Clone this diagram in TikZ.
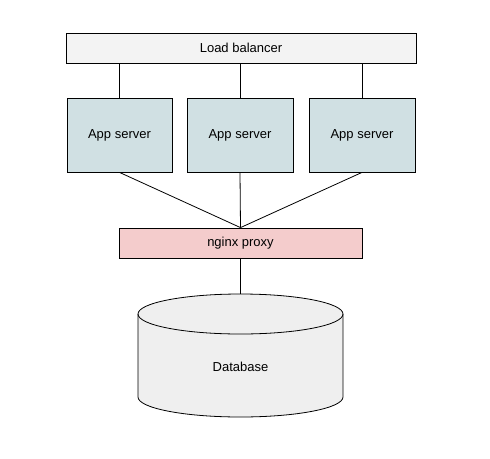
\documentclass[tikz,border=0pt]{standalone}
\usepackage{fontspec}
\setmainfont{Liberation Sans}
\definecolor{lbfill}{HTML}{F3F3F3}
\definecolor{appfill}{HTML}{D0E0E3}
\definecolor{proxyfill}{HTML}{F4CCCC}
\definecolor{dbfill}{HTML}{EFEFEF}
\begin{document}
\begin{tikzpicture}[x=1pt, y=-1pt,
        box/.style={draw, line width=0.8pt, inner sep=0pt, font=\fontsize{13}{15}\selectfont},
        link/.style={line width=0.8pt}]
        \useasboundingbox (0, 0) rectangle (490, 458);
        \node (lb) at (241, 48) [box, fill=lbfill, minimum width=350pt, minimum height=30pt] {Load balancer};
        \node (app1) at (119.5, 135) [box, fill=appfill, minimum width=105pt, minimum height=74pt] {App server};
        \node (app2) at (240, 135) [box, fill=appfill, minimum width=106pt, minimum height=74pt] {App server};
        \node (app3) at (362, 135) [box, fill=appfill, minimum width=106pt, minimum height=74pt] {App server};
        \node (proxy) at (240.5, 243) [box, fill=proxyfill, minimum width=243pt, minimum height=30pt] {nginx proxy};
        \filldraw[link, fill=dbfill] (138, 314) arc (180:360:102.5 and 20) -- (343, 397)
                arc (0:180:102.5 and 20) -- cycle;
        \draw[link] (138, 314) arc (180:0:102.5 and 20);
        \coordinate (dbtop) at (240.5, 294);
        \node (db) at (240.5, 367) [font=\fontsize{13}{15}\selectfont] {Database};
        \draw[link] (app1.north) -- (app1.north |- lb.south);
        \draw[link] (app2.north) -- (app2.north |- lb.south);
        \draw[link] (app3.north) -- (app3.north |- lb.south);
        \draw[link] (app1.south) -- (proxy.north);
        \draw[link] (app2.south) -- (proxy.north);
        \draw[link] (app3.south) -- (proxy.north);
        \draw[link] (proxy.south) -- (dbtop);
\end{tikzpicture}
\end{document}
